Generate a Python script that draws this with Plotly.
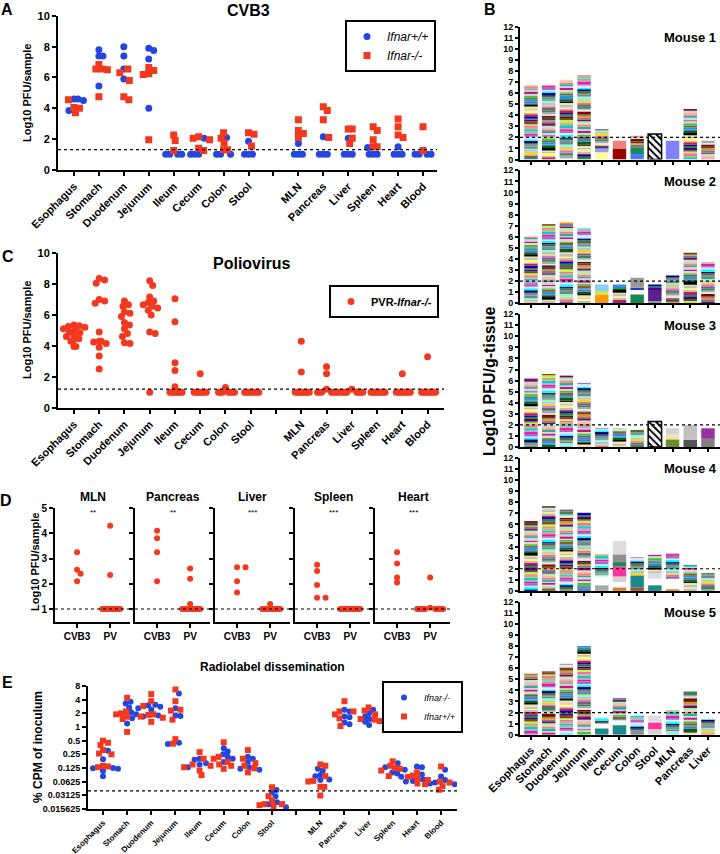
import math
import plotly.graph_objects as go

FONT = "Liberation Sans, Arial, sans-serif"
W, H = 720, 854


def fx(p):
    return p / W


def fy(p):
    return 1 - p / H


# ---------------------------------------------------------------- data
GUT = ["Esophagus", "Stomach", "Duodenum", "Jejunum", "Ileum", "Cecum", "Colon", "Stool"]
SYS = ["MLN", "Pancreas", "Liver", "Spleen", "Heart", "Blood"]
TISSUES = GUT + SYS
TICKTEXT_15 = GUT + [""] + SYS

# Panel A: CVB3, log10 PFU/sample
A_IFNAR_WT = {  # Ifnar+/+ (blue circles)
    "Esophagus": [4.5, 4.6, 3.85, 4.6], "Stomach": [7.8, 7.4, 7.4, 5.45],
    "Duodenum": [8.0, 7.4, 6.55, 5.9], "Jejunum": [7.75, 7.9, 7.2, 4.0],
    "Ileum": [1, 1, 1, 1], "Cecum": [2.05, 1, 1, 1], "Colon": [2.1, 1, 1, 1],
    "Stool": [1.85, 1, 1, 1], "MLN": [1.7, 1, 1, 1], "Pancreas": [2.15, 1, 1, 1],
    "Liver": [2.05, 1, 1, 1], "Spleen": [1.45, 1, 1, 1], "Heart": [1.5, 1, 1, 1],
    "Blood": [1, 1, 1, 1],
}
A_IFNAR_KO = {  # Ifnar-/- (red squares)
    "Esophagus": [3.7, 4.05, 4.55, 4.0], "Stomach": [6.55, 6.85, 6.5, 6.55, 4.75],
    "Duodenum": [6.3, 6.55, 5.8, 4.55, 4.75], "Jejunum": [6.25, 6.45, 6.65, 6.2, 1.95],
    "Ileum": [1.25, 1.9, 2.25], "Cecum": [2.15, 2.05, 1.95, 1.4, 1.25],
    "Colon": [2.4, 2.05, 1.75, 1.3, 1.3], "Stool": [2.4, 2.3, 1.55],
    "MLN": [2.55, 3.25, 2.35, 2.1], "Pancreas": [3.85, 4.1, 3.25, 2.1],
    "Liver": [2.65, 2.65, 2.05, 1.7], "Spleen": [2.8, 2.55, 1.95, 1.5, 1.5],
    "Heart": [3.3, 2.8, 2.25, 2.1], "Blood": [2.8, 1.25],
}
A_LIMIT = 1.3

# Panel C: Poliovirus in PVR-Ifnar-/-
C_PV = {
    "Esophagus": [5.25, 5.35, 5.3, 5.2, 5.1, 4.9, 5.0, 4.85, 4.6, 4.65, 4.3, 4.3, 4.45, 3.95, 3.95],
    "Stomach": [8.25, 8.35, 8.05, 7.0, 6.75, 6.9, 4.9, 4.25, 4.3, 4.3, 4.15, 3.9, 3.35, 2.5],
    "Duodenum": [6.65, 6.55, 6.9, 6.2, 6.1, 5.9, 5.5, 5.35, 5.1, 4.8, 4.6, 4.2, 4.15],
    "Jejunum": [8.2, 7.9, 7.15, 6.9, 6.8, 6.65, 6.55, 6.45, 6.3, 6.0, 4.9, 4.8, 1.0],
    "Ileum": [7.05, 5.55, 2.9, 2.4, 1.35, 1, 1, 1, 1, 1, 1, 1],
    "Cecum": [2.2, 1, 1, 1, 1, 1, 1, 1],
    "Colon": [1.3, 1, 1, 1, 1, 1, 1, 1],
    "Stool": [1, 1, 1, 1, 1, 1, 1, 1],
    "MLN": [4.3, 2.3, 1, 1, 1, 1, 1, 1, 1, 1],
    "Pancreas": [2.65, 2.2, 1.2, 1, 1, 1, 1, 1, 1, 1],
    "Liver": [1.2, 1, 1, 1, 1, 1, 1, 1, 1],
    "Spleen": [1, 1, 1, 1, 1, 1, 1, 1],
    "Heart": [2.2, 1, 1, 1, 1, 1, 1, 1, 1],
    "Blood": [3.3, 1, 1, 1, 1, 1, 1, 1, 1],
}
C_LIMIT = 1.2

# Panel D: systemic tissues, CVB3 vs PV
D_TISSUES = ["MLN", "Pancreas", "Liver", "Spleen", "Heart"]
D_STARS = ["**", "**", "***", "***", "***"]
D_CVB3 = {"MLN": [2.55, 3.25, 2.1, 2.4], "Pancreas": [4.1, 3.8, 3.25, 2.1],
          "Liver": [2.65, 2.65, 2.1, 1.65], "Spleen": [2.75, 2.5, 1.95, 1.45, 1.45],
          "Heart": [3.25, 2.8, 2.25, 2.05]}
D_PV = {"MLN": [4.3, 2.35] + [1] * 10, "Pancreas": [2.6, 2.2, 1.2] + [1] * 10,
        "Liver": [1.2] + [1] * 10, "Spleen": [1] * 11, "Heart": [2.25, 1.05] + [1] * 10}
D_LIMIT = 1.0

# Panel E: radiolabel dissemination, % CPM of inoculum
E_KO = {  # Ifnar-/- (blue)
    "Esophagus": [0.3, 0.195, 0.125, 0.123, 0.107, 0.12, 0.082],
    "Stomach": [3.6, 3.3, 2.7, 2.1, 1.9, 1.55, 1.2],
    "Duodenum": [3.1, 3.0, 2.8, 2.6, 2.4, 1.8, 1.7],
    "Jejunum": [5.5, 2.6, 1.8, 1.75, 0.45, 0.42],
    "Ileum": [0.2, 0.19, 0.16, 0.15, 0.13],
    "Cecum": [0.34, 0.29, 0.25, 0.22, 0.2, 0.17],
    "Colon": [0.22, 0.2, 0.17, 0.13, 0.12, 0.115],
    "Stool": [0.041, 0.036, 0.03, 0.022, 0.02, 0.017],
    "MLN": [0.12, 0.11, 0.088, 0.082, 0.07, 0.068],
    "Pancreas": [2.4, 2.2, 1.7, 1.65, 1.25, 1.15],
    "Liver": [2.4, 2.0, 1.7, 1.5, 1.3, 1.1],
    "Spleen": [0.16, 0.13, 0.115, 0.1, 0.095, 0.08],
    "Heart": [0.135, 0.13, 0.09, 0.07, 0.065, 0.063],
    "Blood": [0.115, 0.081, 0.068, 0.057, 0.055, 0.06],
}
E_WT = {  # Ifnar+/+ (red)
    "Esophagus": [0.5, 0.45, 0.4, 0.31, 0.26, 0.25, 0.14, 0.135, 0.13],
    "Stomach": [4.4, 2.2, 2.0, 1.9, 1.7, 1.7, 1.5, 0.78],
    "Duodenum": [5.3, 3.7, 2.9, 1.9, 1.85, 1.6, 1.3],
    "Jejunum": [6.7, 3.7, 2.4, 2.3, 1.45, 0.54, 0.43],
    "Ileum": [0.28, 0.2, 0.15, 0.14, 0.13, 0.11, 0.087],
    "Cecum": [0.46, 0.22, 0.2, 0.17, 0.15, 0.14, 0.12],
    "Colon": [0.31, 0.2, 0.16, 0.14, 0.123, 0.1],
    "Stool": [0.047, 0.03, 0.024, 0.02, 0.02, 0.019, 0.018],
    "MLN": [0.15, 0.14, 0.083, 0.065, 0.063, 0.048, 0.048, 0.031],
    "Pancreas": [3.7, 2.2, 2.2, 1.9, 1.55, 1.05],
    "Liver": [2.7, 2.3, 1.9, 1.5, 1.45, 1.35],
    "Spleen": [0.175, 0.14, 0.125, 0.12, 0.11, 0.083],
    "Heart": [0.1, 0.085, 0.08, 0.075, 0.068, 0.057],
    "Blood": [0.135, 0.063, 0.06, 0.055, 0.05, 0.0415],
}
E_LIMIT = 0.039
E_TICKVALS = [8, 4, 2, 1, 0.5, 0.25, 0.125, 0.0625, 0.03125, 0.015625]
E_TICKTEXT = ["8", "4", "2", "1", "0.5", "0.25", "0.125", "0.0625", "0.03125", "0.015625"]

# Panel B: per-mouse bar totals (log10 PFU/g-tissue)
B_TISSUES = GUT + ["MLN", "Pancreas", "Liver"]
MOUSE_TOTALS = {
    1: [6.7, 6.75, 7.2, 7.6, 2.75, 1.7, 2.15, 2.3, 1.7, 4.55, 1.7],
    2: [6.0, 7.15, 7.3, 6.75, 1.7, 1.7, 2.3, 1.7, 2.5, 4.55, 3.7],
    3: [6.2, 6.6, 6.45, 5.8, 1.7, 1.7, 1.55, 2.3, 1.7, 2.0, 1.7],
    4: [6.3, 7.65, 7.35, 7.05, 3.3, 4.5, 3.05, 3.25, 3.4, 2.35, 1.6],
    5: [5.5, 5.7, 6.4, 8.0, 1.6, 3.3, 1.7, 1.7, 2.2, 3.9, 1.4],
}
B_LIMIT = 2.0
HATCHED = [(1, "Stool"), (3, "Stool")]
# bar composition: (low, high, colour) blocks; colour None = many small clones
BAR_BLOCKS = {
    (1, "Ileum"): [(0, 0.65, "#ffff99"), (0.65, 1.0, "#9999ff"), (1.0, 2.75, None)],
    (1, "Cecum"): [(0, 1.0, "#990000"), (1.0, 1.7, "#f08080")],
    (1, "Colon"): [(0, 0.5, "#4d79ff"), (0.5, 1.1, "#1a8a5a"), (1.1, 2.15, None)],
    (1, "MLN"): [(0, 1.7, "#8080ff")],
    (2, "Ileum"): [(0, 0.8, "#ff9900"), (0.8, 1.1, "#c8e650"), (1.1, 1.7, "#87cefa")],
    (2, "Colon"): [(0, 0.8, "#138a50"), (1.2, 1.4, "#1a3fd0"), (1.4, 2.3, "#999999")],
    (2, "Stool"): [(0, 0.2, "#999999"), (0.2, 1.2, "#5b1f8f"), (1.2, 1.7, None)],
    (3, "MLN"): [(0, 0.7, "#6b8e23"), (0.7, 1.2, "#f5deb3"), (1.2, 1.7, "#d3d3d3")],
    (3, "Pancreas"): [(0, 0.65, "#555555"), (0.65, 2.0, "#c0c0c0")],
    (3, "Liver"): [(0, 0.75, "#808080"), (0.75, 1.7, "#9b30a0")],
    (4, "Ileum"): [(0, 0.5, "#a9a9a9"), (1.3, 3.3, None)],
    (4, "Cecum"): [(0, 0.3, "#e08020"), (0.8, 1.3, "#d3d3d3"), (1.3, 2.2, "#ff3399"),
                   (2.2, 2.6, "#1a8a5a"), (2.6, 3.3, "#909090"), (3.3, 4.5, "#dcdcdc")],
    (4, "Colon"): [(0, 0.3, "#a0522d"), (0.3, 1.4, "#1a8a8a"), (1.4, 3.05, None)],
    (4, "Stool"): [(0, 0.5, "#1a8a8a"), (1.1, 1.6, "#dcdcdc"), (1.6, 3.25, None)],
    (4, "MLN"): [(0, 0.15, "#e08020"), (1.1, 3.4, None)],
    (5, "Ileum"): [(0, 0.55, "#1a8a8a"), (1.0, 1.6, None)],
    (5, "Cecum"): [(0, 0.85, "#1a8a8a"), (1.3, 3.3, None)],
    (5, "Stool"): [(0, 0.5, "#d3d3d3"), (0.5, 1.1, "#ff3399"), (1.1, 1.7, "#dcdcdc")],
}

# ---------------------------------------------------------------- styles
BLUE = "#2446e0"
RED = "#f2391f"
STRIPE_PALETTE = [
    "#8B0000", "#b0b0b0", "#1E90FF", "#2E8B57", "#FF69B4", "#d8d8d8", "#FFD700", "#4B0082",
    "#20B2AA", "#808080", "#DC143C", "#98FB98", "#000080", "#c0c0c0", "#FF8C00", "#9370DB",
    "#006400", "#e6e6e6", "#00CED1", "#A0522D", "#696969", "#ADFF2F", "#C71585", "#B0C4DE",
    "#228B22", "#FA8072", "#5F9EA0", "#bdbdbd", "#800080", "#00FFFF", "#F5DEB3", "#2F4F4F",
    "#FF1493", "#4682B4", "#a9a9a9", "#BDB76B", "#32CD32", "#DA70D6", "#8B4513", "#d3d3d3",
    "#7FFFD4", "#0000CD", "#FFB6C1", "#556B2F", "#FFFF66", "#708090", "#E6E6FA", "#000000",
]
STRIPE_H = [0.14, 0.2, 0.12, 0.24, 0.16, 0.1, 0.22, 0.18]


def bold_font(size):
    return dict(family=FONT, size=size, color="black", weight="bold")


def swarm(groups, ypix, pxx, dcol, tie):
    """Spread points horizontally so markers don't overlap (pixel space)."""
    pts = [(v, g, i) for g, vals in enumerate(groups) for i, v in enumerate(vals)]
    pts.sort(key=lambda t: (-t[0], t[1]))
    cands = [0.0]
    for n in range(1, 400):
        cands += [n * 0.5, -n * 0.5]
    placed = []
    out = [[0.0] * len(vals) for vals in groups]
    for v, g, i in pts:
        yp = ypix(v)
        c = 0.0
        for c in cands:
            ok = True
            for (xc, yc, vv) in placed:
                d = tie if abs(vv - v) < 1e-9 else dcol
                if (c - xc) ** 2 + (yp - yc) ** 2 < d * d - 1e-6:
                    ok = False
                    break
            if ok:
                break
        placed.append((c, yp, v))
        out[g][i] = c / pxx
    return out


def tissue_pos(t):
    return GUT.index(t) if t in GUT else 9 + SYS.index(t)


traces = []
shapes = []
annotations = []


def axis(**kw):
    d = dict(showline=True, linecolor="black", linewidth=2, ticks="outside", ticklen=4,
             tickwidth=2, tickcolor="black", showgrid=False, zeroline=False, automargin=False,
             tickfont=bold_font(11), fixedrange=True)
    d.update(kw)
    return d


def ann(text, px, py, size, angle=0, bold=True, xanchor="center"):
    t = f"<b>{text}</b>" if bold else text
    annotations.append(dict(text=t, x=fx(px), y=fy(py), xref="paper", yref="paper",
                            showarrow=False, textangle=angle, xanchor=xanchor, yanchor="middle",
                            font=dict(family=FONT, size=size, color="black")))


def hline(xref, yref, val):
    shapes.append(dict(type="line", xref=f"{xref} domain", yref=yref, x0=0, x1=1, y0=val, y1=val,
                       line=dict(color="black", width=1.2, dash="dot")))


layout = dict(template="none", width=W, height=H, margin=dict(l=0, r=0, t=0, b=0, pad=0),
              paper_bgcolor="white", plot_bgcolor="white", barmode="overlay",
              font=dict(family=FONT, color="black"))

# ---------------------------------------------------------------- panel A
A_PXX, A_PXY = 24.93, 15.37
ax_x, ax_y = [], []
bx_x, bx_y = [], []
for t in TISSUES:
    b, r = A_IFNAR_WT[t], A_IFNAR_KO[t]
    ob, orr = swarm([b, r], lambda v: v * A_PXY, A_PXX, 5.5, 4.0)
    p = tissue_pos(t)
    ax_x += [p + o for o in ob]
    ax_y += b
    bx_x += [p + o for o in orr]
    bx_y += r
traces.append(go.Scatter(x=ax_x, y=ax_y, mode="markers", xaxis="x", yaxis="y",
                         marker=dict(symbol="circle", size=7, color=BLUE), name="<i>Ifnar+/+</i>",
                         legend="legend", hoverinfo="skip"))
traces.append(go.Scatter(x=bx_x, y=bx_y, mode="markers", xaxis="x", yaxis="y",
                         marker=dict(symbol="square", size=7, color=RED), name="<i>Ifnar-/-</i>",
                         legend="legend", hoverinfo="skip"))
layout["xaxis"] = axis(domain=[fx(58), fx(437)], range=[-0.64, 14.56], tickvals=list(range(15)),
                       ticktext=TICKTEXT_15, tickangle=-45, anchor="y")
layout["yaxis"] = axis(domain=[fy(169.7), fy(16)], range=[0, 10], tickvals=[0, 2, 4, 6, 8, 10],
                       anchor="x")
hline("x", "y", A_LIMIT)
layout["legend"] = dict(x=fx(345), y=fy(20), xanchor="left", yanchor="top", bordercolor="black",
                        borderwidth=2, bgcolor="white", font=dict(family=FONT, size=12, color="black"))
ann("A", 7, 9, 16)
ann("CVB3", 248, 10, 16)
ann("Log10 PFU/sample", 27, 93, 11, angle=-90)

# ---------------------------------------------------------------- panel C
C_PXX, C_PXY = 25.25, 15.47
cx, cy = [], []
for t in TISSUES:
    v = C_PV[t]
    (o,) = swarm([v], lambda q: q * C_PXY, C_PXX, 5.5, 2.0)
    p = tissue_pos(t)
    cx += [p + oo for oo in o]
    cy += v
traces.append(go.Scatter(x=cx, y=cy, mode="markers", xaxis="x2", yaxis="y2",
                         marker=dict(symbol="circle", size=7, color=RED),
                         name="<b>PVR-<i>Ifnar-/-</i></b>", legend="legend2", hoverinfo="skip"))
layout["xaxis2"] = axis(domain=[fx(58), fx(444)], range=[-0.63, 14.65], tickvals=list(range(15)),
                        ticktext=TICKTEXT_15, tickangle=-45, anchor="y2")
layout["yaxis2"] = axis(domain=[fy(407.7), fy(253)], range=[0, 10], tickvals=[0, 2, 4, 6, 8, 10],
                        anchor="x2")
hline("x2", "y2", C_LIMIT)
layout["legend2"] = dict(x=fx(329), y=fy(285), xanchor="left", yanchor="top", bordercolor="black",
                         borderwidth=2, bgcolor="white", font=dict(family=FONT, size=11, color="black"))
ann("C", 8, 256, 16)
ann("Poliovirus", 252, 263, 16)
ann("Log10 PFU/sample", 27, 330, 11, angle=-90)

# ---------------------------------------------------------------- panel D
D_PXX, D_PXY = 33.0, 25.25
for k, t in enumerate(D_TISSUES):
    n = 3 + k
    xa, ya = f"x{n}", f"y{n}"
    (oc,) = swarm([D_CVB3[t]], lambda q: q * D_PXY, D_PXX, 5.0, 8.5)
    (op,) = swarm([D_PV[t]], lambda q: q * D_PXY, D_PXX, 5.0, 2.0)
    xs = [0 + o for o in oc] + [1 + o for o in op]
    ys = D_CVB3[t] + D_PV[t]
    traces.append(go.Scatter(x=xs, y=ys, mode="markers", xaxis=xa, yaxis=ya, showlegend=False,
                             marker=dict(symbol="circle", size=6, color=RED), hoverinfo="skip"))
    left = 55 + 80 * k
    layout[f"xaxis{n}"] = axis(domain=[fx(left), fx(left + 75)], range=[-0.667, 1.6],
                               tickvals=[0, 1], ticktext=["CVB3", "PV"], tickfont=bold_font(10),
                               anchor=ya)
    layout[f"yaxis{n}"] = axis(domain=[fy(622), fy(508)], range=[0.485, 5], tickvals=[1, 2, 3, 4, 5],
                               showticklabels=(k == 0), tickfont=bold_font(10), anchor=xa)
    hline(xa, ya, D_LIMIT)
    ann(t, left + 38, 497, 12)
    ann(D_STARS[k], left + 38, 512, 8, bold=False)
ann("D", 6, 500, 16)
ann("Log10 PFU/sample", 35, 562, 11, angle=-90)

# ---------------------------------------------------------------- panel E
E_PXX, E_PXD = 24.14, 45.5
ex_b, ey_b, ex_r, ey_r = [], [], [], []
for t in TISSUES:
    b, r = E_KO[t], E_WT[t]
    ob, orr = swarm([b, r], lambda q: math.log10(q) * E_PXD, E_PXX, 5.0, 4.0)
    p = tissue_pos(t)
    ex_b += [p + o for o in ob]
    ey_b += b
    ex_r += [p + o for o in orr]
    ey_r += r
traces.append(go.Scatter(x=ex_b, y=ey_b, mode="markers", xaxis="x8", yaxis="y8",
                         marker=dict(symbol="circle", size=6, color=BLUE), name="<i>Ifnar-/-</i>",
                         legend="legend3", hoverinfo="skip"))
traces.append(go.Scatter(x=ex_r, y=ey_r, mode="markers", xaxis="x8", yaxis="y8",
                         marker=dict(symbol="square", size=6, color=RED), name="<i>Ifnar+/+</i>",
                         legend="legend3", hoverinfo="skip"))
layout["xaxis8"] = axis(domain=[fx(88), fx(457)], range=[-0.62, 14.66], tickvals=list(range(15)),
                        ticktext=TICKTEXT_15, tickangle=-45, tickfont=bold_font(8), anchor="y8")
layout["yaxis8"] = axis(domain=[fy(809), fy(686)], type="log",
                        range=[math.log10(0.015625), math.log10(8)], tickvals=E_TICKVALS,
                        ticktext=E_TICKTEXT, tickfont=bold_font(9), anchor="x8")
traces.append(go.Scatter(x=[-0.62, 14.66], y=[E_LIMIT, E_LIMIT], mode="lines", xaxis="x8",
                         yaxis="y8", showlegend=False, hoverinfo="skip",
                         line=dict(color="black", width=1.2, dash="dot")))
layout["legend3"] = dict(x=fx(382), y=fy(681), xanchor="left", yanchor="top", bordercolor="black",
                         borderwidth=2, bgcolor="white", font=dict(family=FONT, size=9, color="black"))
ann("E", 7, 682, 16)
ann("Radiolabel dissemination", 272, 667, 12)
ann("% CPM of inoculum", 38, 747, 12, angle=-90)

# ---------------------------------------------------------------- panel B
for m in range(1, 6):
    n = 8 + m
    xa, ya = f"x{n}", f"y{n}"
    top = 26.5 + (m - 1) * 143.8
    bottom = top + 133
    pieces_per_bar = []
    for bi, t in enumerate(B_TISSUES):
        if (m, t) in HATCHED:
            pieces_per_bar.append([])
            continue
        blocks = BAR_BLOCKS.get((m, t), [(0, MOUSE_TOTALS[m][bi], None)])
        pieces = []
        k = 0
        for lo, hi, col in blocks:
            if col is not None:
                pieces.append((lo, hi - lo, col))
                continue
            y = lo
            while y < hi - 1e-9:
                h = min(STRIPE_H[(k + bi) % len(STRIPE_H)], hi - y)
                c = STRIPE_PALETTE[(k * 17 + bi * 7 + m * 3) % len(STRIPE_PALETTE)]
                pieces.append((y, h, c))
                y += h
                k += 1
        pieces_per_bar.append(pieces)
    maxn = max(len(p) for p in pieces_per_bar)
    for j in range(maxn):
        xs, bs, hs, cs = [], [], [], []
        for bi, pieces in enumerate(pieces_per_bar):
            if j < len(pieces):
                lo, h, c = pieces[j]
                xs.append(bi)
                bs.append(lo)
                hs.append(h)
                cs.append(c)
        traces.append(go.Bar(x=xs, y=hs, base=bs, width=0.76, xaxis=xa, yaxis=ya,
                             marker=dict(color=cs, line=dict(width=0)), showlegend=False,
                             hoverinfo="skip"))
    for (mm, t) in HATCHED:
        if mm == m:
            bi = B_TISSUES.index(t)
            traces.append(go.Bar(x=[bi], y=[MOUSE_TOTALS[m][bi]], base=[0], width=0.76, xaxis=xa,
                                 yaxis=ya, showlegend=False, hoverinfo="skip",
                                 marker=dict(color="white", line=dict(color="black", width=1.5),
                                             pattern=dict(shape="\\", fgcolor="black",
                                                          bgcolor="white", size=5, solidity=0.4))))
    layout[f"xaxis{n}"] = axis(domain=[fx(520), fx(720)], range=[-0.62, 10.68],
                               tickvals=list(range(11)), ticktext=B_TISSUES, tickangle=-45,
                               showticklabels=(m == 5), ticklen=3, anchor=ya)
    layout[f"yaxis{n}"] = axis(domain=[fy(bottom), fy(top)], range=[0, 12],
                               tickvals=list(range(13)), tickfont=bold_font(9), ticklen=3, anchor=xa)
    hline(xa, ya, B_LIMIT)
    ann(f"Mouse {m}", 690, top + 11, 13)
ann("B", 490, 9, 16)
ann("Log10 PFU/g-tissue", 489, 382, 16, angle=-90)

layout["shapes"] = shapes
layout["annotations"] = annotations
fig = go.Figure(data=traces, layout=layout)
fig.write_html("out.html", config={"displayModeBar": False, "staticPlot": True},
               post_script="document.body.style.margin='0px';document.body.style.padding='0px';")
